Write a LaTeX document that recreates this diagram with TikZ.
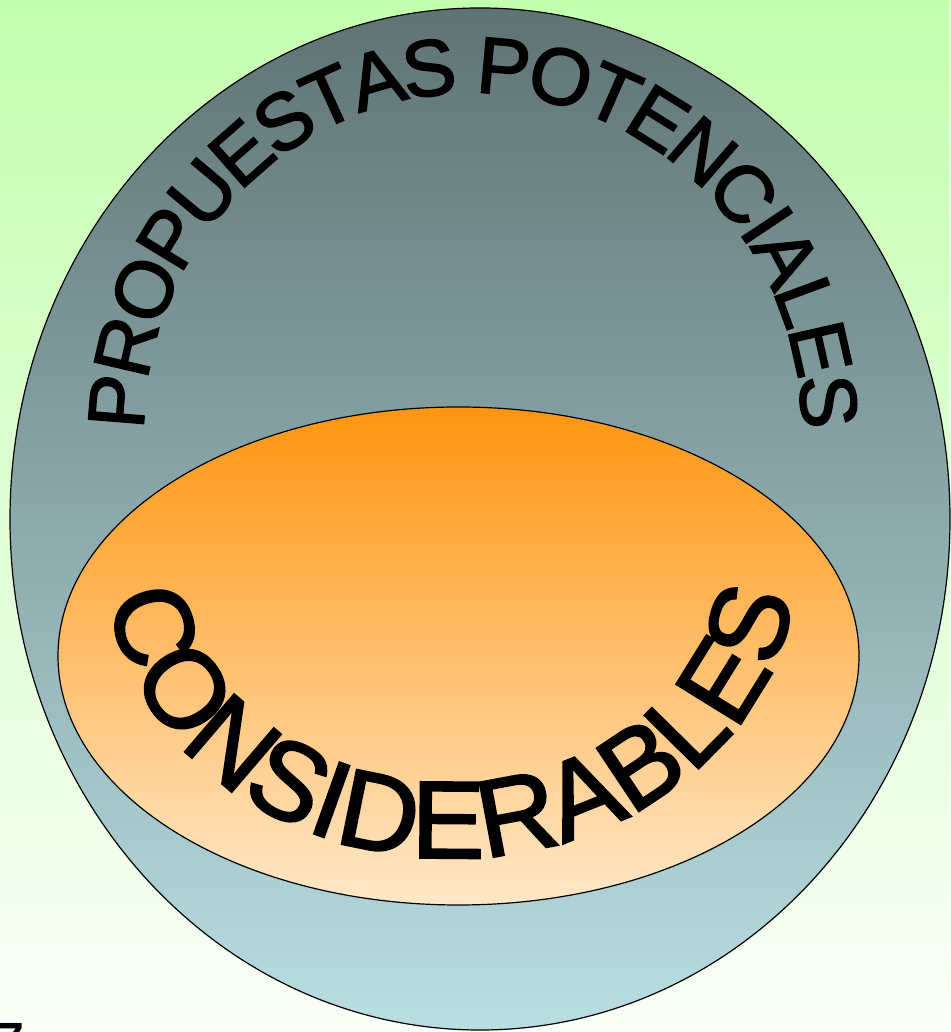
\documentclass[tikz,border=0pt]{standalone}
\usepackage{fontspec}
\usetikzlibrary{decorations.text}
\newfontfamily\arialf{Liberation Sans}
\newfontfamily\arialfb[FakeBold=2]{Liberation Sans}
\newcommand\propfont{\arialfb\fontsize{80}{80}\selectfont}
\newcommand\consfont{\arialfb\fontsize{110}{110}\selectfont}
\definecolor{bgtop}{HTML}{C4FFB0}
\definecolor{bgbot}{HTML}{FAFFF8}
\definecolor{outtop}{HTML}{5F7373}
\definecolor{outbot}{HTML}{B9DFE3}
\definecolor{intop}{HTML}{FF9510}
\definecolor{inbot}{HTML}{FFE8C8}
\begin{document}
\begin{tikzpicture}[x=1pt,y=1pt,
  ring/.style={draw=black, line width=1.2pt},
  arctext/.style={decorate, decoration={text along path, text align=center, #1}}]
\useasboundingbox (0,0) rectangle (950,1032);
\fill[top color=bgtop, bottom color=bgbot] (0,0) rectangle (950,1032);
\coordinate (oc) at (480,513);
\coordinate (ic) at (458.5,376);
\coordinate (pc) at (473,600);
\coordinate (cc) at (451,472);
\path[ring, top color=outtop, bottom color=outbot] (oc) ellipse [x radius=470, y radius=511];
\path[ring, top color=intop, bottom color=inbot] (ic) ellipse [x radius=400.5, y radius=249];
\path[arctext={text={|\propfont|PROPUESTAS POTENCIALES}, raise=-28pt}]
  ([shift={(183:357 and 367)}]pc) arc[start angle=183, end angle=-3, x radius=357, y radius=367];
\path[arctext={text={|\consfont|CONSIDERABLES}}]
  ([shift={(178:345 and 298)}]cc) arc[start angle=178, end angle=362, x radius=345, y radius=298];
\node[font=\arialf\fontsize{48}{48}\selectfont\bfseries, inner sep=0, anchor=base west] (seven) at (-2.5,-24.4) {7};
\end{tikzpicture}
\end{document}
